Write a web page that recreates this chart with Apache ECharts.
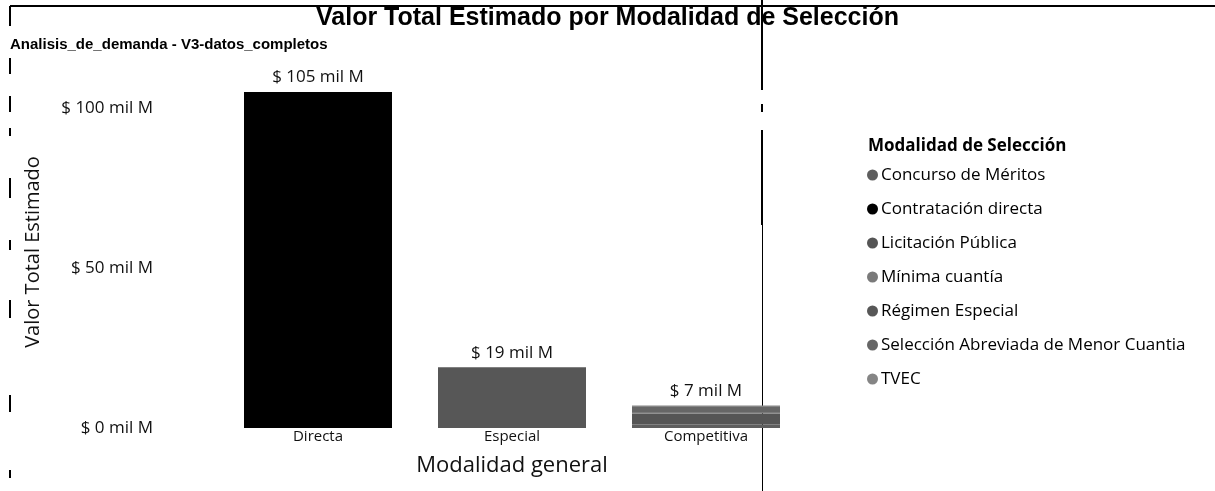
<!DOCTYPE html>
<html>
<head>
<meta charset="utf-8">
<script src="https://cdn.jsdelivr.net/npm/echarts@6/dist/echarts.min.js"></script>
<style>
  html, body { margin: 0; padding: 0; background: #fff; }
  #chart { width: 1215px; height: 491px; }
</style>
</head>
<body>
<div id="chart"></div>
<script>
// Categories on the x axis (general modality)
const categorias = ['Directa', 'Especial', 'Competitiva'];

// Estimated total value per selection modality, in "mil M" (thousands of millions)
const concursoMeritos   = [0, 0, 1.1];
const contratacionDir   = [105, 0, 0];
const licitacionPublica = [0, 0, 3.4];
const minimaCuantia     = [0, 0, 0.5];
const regimenEspecial   = [0, 19, 0];
const seleccionAbrev    = [0, 0, 1.6];
const tvec              = [0, 0, 0.4];

const nombresSeries = [
  'Concurso de Méritos',
  'Contratación directa',
  'Licitación Pública',
  'Mínima cuantía',
  'Régimen Especial',
  'Selección Abreviada de Menor Cuantia',
  'TVEC'
];
const valoresSeries = [concursoMeritos, contratacionDir, licitacionPublica, minimaCuantia, regimenEspecial, seleccionAbrev, tvec];
const coloresSeries = ['#5e5e5e', '#000000', '#555555', '#7a7a7a', '#575757', '#666666', '#858585'];

// Y axis ticks
const yTicks = [0, 50, 100];

const totales = categorias.map((_, i) => valoresSeries.reduce((s, arr) => s + arr[i], 0));
const fmt = v => '$ ' + Math.round(v) + ' mil M';

const FONT = '"Open Sans", "Noto Sans", sans-serif';
const BAR_W = 148;

const series = nombresSeries.map((name, k) => ({
  name: name,
  type: 'bar',
  stack: 'total',
  barWidth: BAR_W,
  itemStyle: { color: coloresSeries[k] },
  data: valoresSeries[k]
}));

// zero-height series on top of each stack carrying the total label
series.push({
  name: 'Total',
  type: 'bar',
  stack: 'total',
  barWidth: BAR_W,
  data: categorias.map(() => 0),
  itemStyle: { color: 'transparent' },
  label: {
    show: true,
    position: 'top',
    distance: 6,
    fontFamily: FONT,
    fontSize: 17,
    color: '#111',
    formatter: p => fmt(totales[p.dataIndex])
  }
});

// thin page-edge marks along the left margin
const marcasIzq = [[58, 74], [96, 112], [128, 136], [178, 198], [240, 250], [300, 318], [395, 412], [470, 478]];

const graficos = [
  { type: 'line', shape: { x1: 10, y1: 6, x2: 1215, y2: 6 }, style: { stroke: '#000', lineWidth: 2 } },
  { type: 'line', shape: { x1: 10, y1: 6, x2: 10, y2: 26 }, style: { stroke: '#000', lineWidth: 2 } },
  { type: 'line', shape: { x1: 762, y1: 0, x2: 762, y2: 90 }, style: { stroke: '#000', lineWidth: 2 } },
  { type: 'line', shape: { x1: 762, y1: 104, x2: 762, y2: 112 }, style: { stroke: '#000', lineWidth: 2 } },
  { type: 'line', shape: { x1: 762, y1: 130, x2: 762, y2: 225 }, style: { stroke: '#000', lineWidth: 2 } },
  { type: 'line', shape: { x1: 762.5, y1: 225, x2: 762.5, y2: 491 }, style: { stroke: '#000', lineWidth: 1 } }
].concat(marcasIzq.map(m => ({
  type: 'line', shape: { x1: 10, y1: m[0], x2: 10, y2: m[1] }, style: { stroke: '#000', lineWidth: 2 }
})));

const chart = echarts.init(document.getElementById('chart'), null, { renderer: 'canvas' });
chart.setOption({
  backgroundColor: '#ffffff',
  animation: false,
  title: [
    {
      text: 'Valor Total Estimado por Modalidad de Selección',
      left: 'center',
      top: 1,
      textStyle: { fontFamily: '"Liberation Sans", Arial, sans-serif', fontWeight: 'bold', fontSize: 25, color: '#000' }
    },
    {
      text: 'Analisis_de_demanda - V3-datos_completos',
      left: 5,
      top: 32,
      textStyle: { fontFamily: '"Liberation Sans", Arial, sans-serif', fontWeight: 'bold', fontSize: 15, color: '#000' }
    },
    {
      text: 'Modalidad de Selección',
      left: 863,
      top: 133,
      textStyle: { fontFamily: FONT, fontWeight: 'bold', fontSize: 17, color: '#000' }
    }
  ],
  legend: {
    orient: 'vertical',
    left: 862,
    top: 160,
    icon: 'circle',
    itemWidth: 11,
    itemHeight: 11,
    itemGap: 14,
    data: nombresSeries,
    textStyle: { fontFamily: FONT, fontSize: 17, color: '#000', lineHeight: 20, padding: [0, 0, 0, -2] }
  },
  grid: { left: 221, right: 412, top: 76, bottom: 63 },
  xAxis: {
    type: 'category',
    data: categorias,
    axisLine: { show: false },
    axisTick: { show: false },
    axisLabel: { fontFamily: FONT, fontSize: 15, color: '#111', margin: 1 },
    name: 'Modalidad general',
    nameLocation: 'middle',
    nameGap: 27,
    nameTextStyle: { fontFamily: FONT, fontSize: 22, color: '#111' }
  },
  yAxis: {
    type: 'value',
    min: yTicks[0],
    max: 110,
    interval: yTicks[1] - yTicks[0],
    splitLine: { show: false },
    axisLine: { show: false },
    axisTick: { show: false },
    axisLabel: {
      fontFamily: FONT,
      fontSize: 17,
      color: '#111',
      margin: 68,
      showMaxLabel: false,
      formatter: v => (yTicks.indexOf(v) >= 0 ? fmt(v) : '')
    },
    name: 'Valor Total Estimado',
    nameLocation: 'middle',
    nameGap: 178,
    nameTextStyle: { fontFamily: FONT, fontSize: 20, color: '#111' }
  },
  series: series,
  graphic: graficos
});
</script>
</body>
</html>
